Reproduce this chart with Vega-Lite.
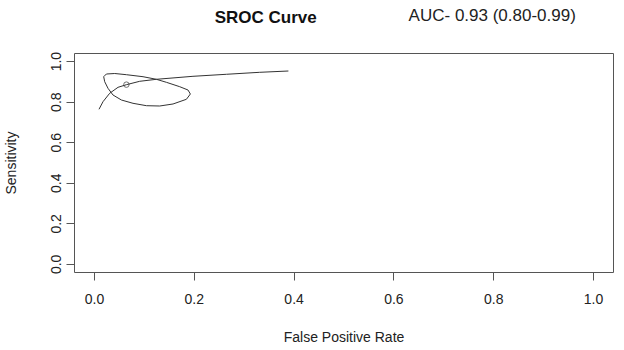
{
  "$schema": "https://vega.github.io/schema/vega-lite/v6.json",
  "width": 539,
  "height": 219,
  "autosize": {"type": "none"},
  "padding": {"left": 74, "top": 53, "right": 11, "bottom": 78},
  "background": "white",
  "config": {
    "view": {"stroke": "#555555", "strokeWidth": 1},
    "font": "Liberation Sans",
    "axis": {
      "grid": false,
      "domain": false,
      "tickSize": 8,
      "tickColor": "#555555",
      "labelFont": "Liberation Sans",
      "labelFontSize": 14,
      "labelColor": "#222222",
      "titleFont": "Liberation Sans",
      "titleFontSize": 14,
      "titleFontWeight": "normal",
      "titleColor": "#222222"
    }
  },
  "datasets": {
    "lines": [
      {"series": "curve", "ord": 1, "fpr": 0.0101, "sens": 0.7624},
      {"series": "curve", "ord": 2, "fpr": 0.0181, "sens": 0.7998},
      {"series": "curve", "ord": 3, "fpr": 0.0315, "sens": 0.8413},
      {"series": "curve", "ord": 4, "fpr": 0.0482, "sens": 0.8708},
      {"series": "curve", "ord": 5, "fpr": 0.0650, "sens": 0.8837},
      {"series": "curve", "ord": 6, "fpr": 0.0916, "sens": 0.9004},
      {"series": "curve", "ord": 7, "fpr": 0.1251, "sens": 0.9103},
      {"series": "curve", "ord": 8, "fpr": 0.1984, "sens": 0.9251},
      {"series": "curve", "ord": 9, "fpr": 0.2654, "sens": 0.9350},
      {"series": "curve", "ord": 10, "fpr": 0.3321, "sens": 0.9448},
      {"series": "curve", "ord": 11, "fpr": 0.3896, "sens": 0.9512},
      {"series": "ellipse", "ord": 1, "fpr": 0.0249, "sens": 0.9364},
      {"series": "ellipse", "ord": 2, "fpr": 0.0195, "sens": 0.9231},
      {"series": "ellipse", "ord": 3, "fpr": 0.0215, "sens": 0.8985},
      {"series": "ellipse", "ord": 4, "fpr": 0.0281, "sens": 0.8659},
      {"series": "ellipse", "ord": 5, "fpr": 0.0381, "sens": 0.8329},
      {"series": "ellipse", "ord": 6, "fpr": 0.0550, "sens": 0.8082},
      {"series": "ellipse", "ord": 7, "fpr": 0.0782, "sens": 0.7919},
      {"series": "ellipse", "ord": 8, "fpr": 0.1051, "sens": 0.7801},
      {"series": "ellipse", "ord": 9, "fpr": 0.1317, "sens": 0.7786},
      {"series": "ellipse", "ord": 10, "fpr": 0.1584, "sens": 0.7885},
      {"series": "ellipse", "ord": 11, "fpr": 0.1852, "sens": 0.8117},
      {"series": "ellipse", "ord": 12, "fpr": 0.1932, "sens": 0.8378},
      {"series": "ellipse", "ord": 13, "fpr": 0.1884, "sens": 0.8575},
      {"series": "ellipse", "ord": 14, "fpr": 0.1718, "sens": 0.8738},
      {"series": "ellipse", "ord": 15, "fpr": 0.1451, "sens": 0.8955},
      {"series": "ellipse", "ord": 16, "fpr": 0.1251, "sens": 0.9103},
      {"series": "ellipse", "ord": 17, "fpr": 0.0983, "sens": 0.9231},
      {"series": "ellipse", "ord": 18, "fpr": 0.0650, "sens": 0.9330},
      {"series": "ellipse", "ord": 19, "fpr": 0.0416, "sens": 0.9389},
      {"series": "ellipse", "ord": 20, "fpr": 0.0249, "sens": 0.9364}
    ],
    "summary": [
      {"fpr": 0.065, "sens": 0.884}
    ],
    "annotation": [
      {"label": "SROC Curve", "kind": "title", "fpr": 0.344, "sens": 1.213},
      {"label": "AUC- 0.93 (0.80-0.99)", "kind": "auc", "fpr": 0.798, "sens": 1.223}
    ]
  },
  "layer": [
    {
      "data": {"name": "lines"},
      "mark": {"type": "line", "color": "#333333", "strokeWidth": 1},
      "encoding": {
        "x": {
          "field": "fpr",
          "type": "quantitative",
          "scale": {"domain": [-0.04, 1.04], "nice": false, "zero": false},
          "axis": {
            "title": "False Positive Rate",
            "values": [0, 0.2, 0.4, 0.6, 0.8, 1],
            "format": ".1f",
            "labelPadding": 12,
            "titlePadding": 24
          }
        },
        "y": {
          "field": "sens",
          "type": "quantitative",
          "scale": {"domain": [-0.04, 1.04], "nice": false, "zero": false},
          "axis": {
            "title": "Sensitivity",
            "values": [0, 0.2, 0.4, 0.6, 0.8, 1],
            "format": ".1f",
            "labelAngle": 270,
            "labelAlign": "center",
            "labelBaseline": "bottom",
            "labelPadding": 3,
            "titlePadding": 31
          }
        },
        "detail": {"field": "series"},
        "order": {"field": "ord"}
      }
    },
    {
      "data": {"name": "summary"},
      "mark": {"type": "point", "shape": "circle", "filled": false, "size": 30, "color": "#333333", "strokeWidth": 1},
      "encoding": {
        "x": {"field": "fpr", "type": "quantitative"},
        "y": {"field": "sens", "type": "quantitative"}
      }
    },
    {
      "data": {"name": "annotation"},
      "transform": [{"filter": "datum.kind === 'title'"}],
      "mark": {"type": "text", "font": "Liberation Sans", "fontSize": 17, "fontWeight": "bold", "color": "#111111", "align": "center", "baseline": "middle"},
      "encoding": {
        "x": {"field": "fpr", "type": "quantitative"},
        "y": {"field": "sens", "type": "quantitative"},
        "text": {"field": "label"}
      }
    },
    {
      "data": {"name": "annotation"},
      "transform": [{"filter": "datum.kind === 'auc'"}],
      "mark": {"type": "text", "font": "Liberation Sans", "fontSize": 17, "color": "#222222", "align": "center", "baseline": "middle"},
      "encoding": {
        "x": {"field": "fpr", "type": "quantitative"},
        "y": {"field": "sens", "type": "quantitative"},
        "text": {"field": "label"}
      }
    }
  ]
}
